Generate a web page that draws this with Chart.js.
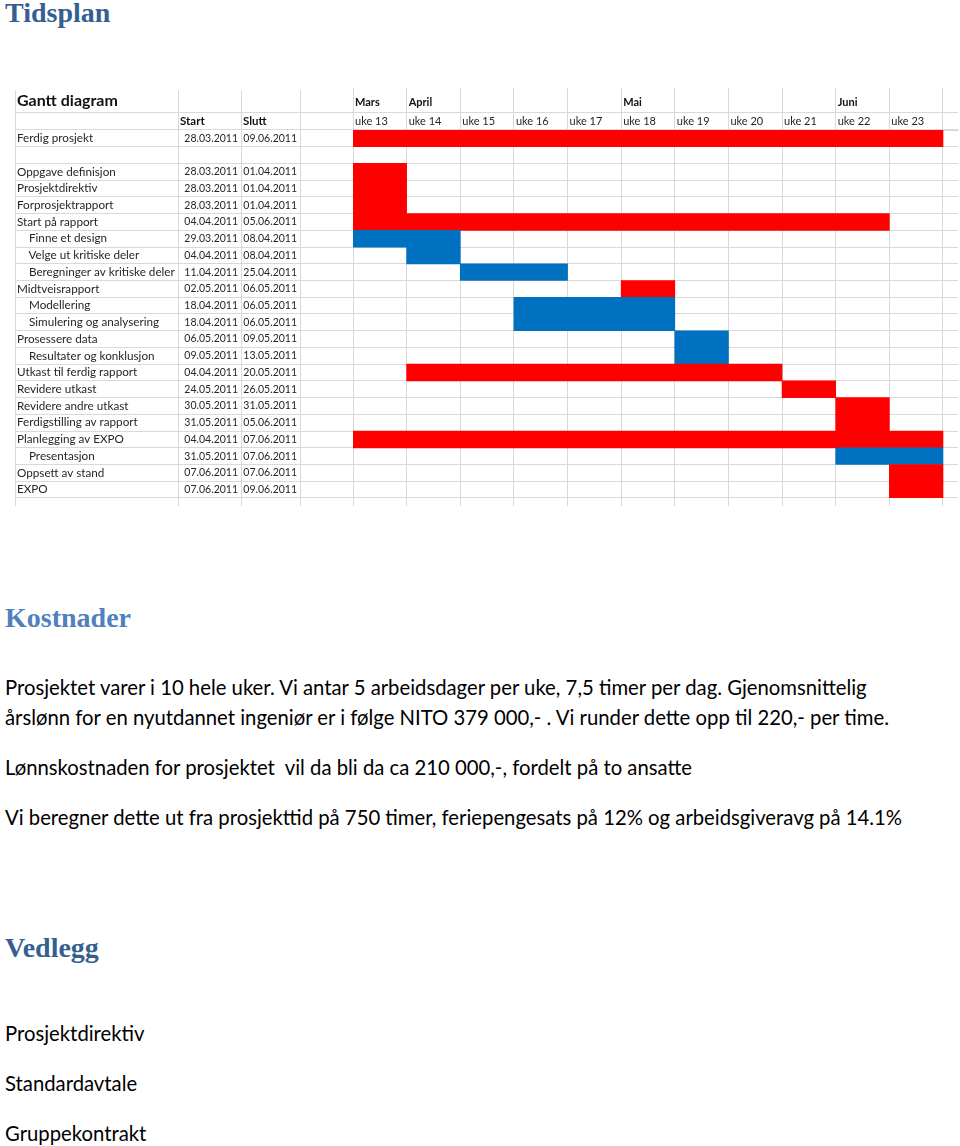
<!doctype html>
<html lang="no">
<head>
<meta charset="UTF-8">
<title>Tidsplan</title>
<script src="https://cdn.jsdelivr.net/npm/chart.js"></script>
<style>
  body { margin:0; width:960px; height:1146px; position:relative; background:#fff; font-family: Lato, sans-serif; color:#000; overflow:hidden; }
  .h { position:absolute; left:5px; margin:0; font-family:"Liberation Serif", serif; font-weight:bold; font-size:28px; line-height:30px; color:#365f91; }
  .t { position:absolute; left:5px; font-size:20.3px; line-height:30px; white-space:pre; }
  #gantt { position:absolute; left:0; top:88px; width:960px; height:420px; }
</style>
</head>
<body>

<h1 class="h" style="top:-2px">Tidsplan</h1>

<div id="gantt"><canvas id="ganttChart"></canvas></div>

<h2 class="h" style="top:603px;color:#4f81bd">Kostnader</h2>
<div class="t" style="top:672px">Prosjektet varer i 10 hele uker. Vi antar 5 arbeidsdager per uke, 7,5 timer per dag. Gjenomsnittelig</div>
<div class="t" style="top:702px">årslønn for en nyutdannet ingeniør er i følge NITO 379 000,- . Vi runder dette opp til 220,- per time.</div>
<div class="t" style="top:752px">Lønnskostnaden for prosjektet  vil da bli da ca 210 000,-, fordelt på to ansatte</div>
<div class="t" style="top:802px">Vi beregner dette ut fra prosjekttid på 750 timer, feriepengesats på 12% og arbeidsgiveravg på 14.1%</div>

<h2 class="h" style="top:933px">Vedlegg</h2>
<div class="t" style="top:1018px">Prosjektdirektiv</div>
<div class="t" style="top:1068px">Standardavtale</div>
<div class="t" style="top:1118px">Gruppekontrakt</div>

<script>
// rader i gantt-tabellen
const TASKS = ['Ferdig prosjekt', '', 'Oppgave definisjon', 'Prosjektdirektiv', 'Forprosjektrapport',
    'Start på rapport', 'Finne et design', 'Velge ut kritiske deler', 'Beregninger av kritiske deler',
    'Midtveisrapport', 'Modellering', 'Simulering og analysering', 'Prosessere data',
    'Resultater og konklusjon', 'Utkast til ferdig rapport', 'Revidere utkast', 'Revidere andre utkast',
    'Ferdigstilling av rapport', 'Planlegging av EXPO', 'Presentasjon', 'Oppsett av stand', 'EXPO'];
const INDENT = [0, 0, 0, 0, 0, 0, 1, 1, 1, 0, 1, 1, 0, 1, 0, 0, 0, 0, 0, 1, 0, 0];
const START_DATES = ['28.03.2011', '', '28.03.2011', '28.03.2011', '28.03.2011', '04.04.2011', '29.03.2011',
    '04.04.2011', '11.04.2011', '02.05.2011', '18.04.2011', '18.04.2011', '06.05.2011', '09.05.2011',
    '04.04.2011', '24.05.2011', '30.05.2011', '31.05.2011', '04.04.2011', '31.05.2011', '07.06.2011', '07.06.2011'];
const END_DATES = ['09.06.2011', '', '01.04.2011', '01.04.2011', '01.04.2011', '05.06.2011', '08.04.2011',
    '08.04.2011', '25.04.2011', '06.05.2011', '06.05.2011', '06.05.2011', '09.05.2011', '13.05.2011',
    '20.05.2011', '26.05.2011', '31.05.2011', '05.06.2011', '07.06.2011', '07.06.2011', '07.06.2011', '09.06.2011'];
// første og siste uke som er fylt ut
const FIRST_WEEK = [13, null, 13, 13, 13, 13, 13, 14, 15, 18, 16, 16, 19, 19, 14, 21, 22, 22, 13, 22, 23, 23];
const LAST_WEEK  = [23, null, 13, 13, 13, 22, 14, 14, 16, 18, 18, 18, 19, 19, 20, 21, 22, 22, 23, 23, 23, 23];
const KIND = ['red', '', 'red', 'red', 'red', 'red', 'blue', 'blue', 'blue', 'red', 'blue', 'blue', 'blue',
    'blue', 'red', 'red', 'red', 'red', 'red', 'blue', 'red', 'red'];
const WEEKS = [13, 14, 15, 16, 17, 18, 19, 20, 21, 22, 23];
const MONTHS = {13: 'Mars', 14: 'April', 18: 'Mai', 22: 'Juni'};

const COLORS = {red: '#ff0000', blue: '#0070c0'};
const GRID = '#d9d9d9';
const TEXT = '#262626';
const FONT = 'Lato, sans-serif';

// linjer og tekst for kolonnene til venstre (navn, start, slutt)
const tablePlugin = {
    id: 'table',
    beforeDatasetsDraw(chart) {
        const ctx = chart.ctx;
        const xs = chart.scales.x;
        const bottom = chart.chartArea.bottom + 8;
        ctx.save();
        ctx.strokeStyle = GRID;
        ctx.lineWidth = 1;
        ctx.beginPath();
        [15, 178, 241, 300].forEach(x => {
            ctx.moveTo(x + 0.5, 2);
            ctx.lineTo(x + 0.5, bottom);
        });
        ctx.moveTo(15, Math.round(xs.top) + 0.5);
        ctx.lineTo(chart.chartArea.right, Math.round(xs.top) + 0.5);
        ctx.stroke();
        ctx.restore();
    },
    afterDraw(chart) {
        const ctx = chart.ctx;
        const ys = chart.scales.y;
        const xs = chart.scales.x;
        const x2 = chart.scales.x2;
        ctx.save();
        ctx.fillStyle = '#111';
        ctx.textBaseline = 'middle';
        ctx.font = 'bold 16px ' + FONT;
        ctx.fillText('Gantt diagram', 17, (x2.top + x2.bottom) / 2 + 1);
        ctx.font = 'bold 11.5px ' + FONT;
        const hy = (xs.top + xs.bottom) / 2;
        ctx.fillText('Start', 180, hy);
        ctx.fillText('Slutt', 243, hy);
        ctx.fillStyle = TEXT;
        ctx.font = '10.5px ' + FONT;
        ctx.textAlign = 'right';
        TASKS.forEach((t, i) => {
            const y = ys.getPixelForValue(i);
            ctx.fillText(START_DATES[i], 238, y);
            ctx.fillText(END_DATES[i], 297, y);
        });
        ctx.restore();
    }
};

const weekTicks = s => { s.ticks = WEEKS.concat([24]).map(v => ({value: v})); };

new Chart(document.getElementById('ganttChart'), {
    type: 'bar',
    data: {
        labels: TASKS,
        datasets: [{
            label: 'Aktivitet',
            data: FIRST_WEEK.map((f, i) => f === null ? null : [f, LAST_WEEK[i] + 1]),
            backgroundColor: KIND.map(k => COLORS[k] || 'transparent'),
            borderWidth: 0,
            barPercentage: 1,
            categoryPercentage: 1
        }]
    },
    options: {
        indexAxis: 'y',
        responsive: true,
        maintainAspectRatio: false,
        animation: false,
        layout: {padding: {left: 17, right: 2, top: 0, bottom: 1.5}},
        plugins: {legend: {display: false}, tooltip: {enabled: false}},
        scales: {
            x: {
                type: 'linear',
                position: 'top',
                weight: 0,
                min: 13,
                max: 24.28,
                afterBuildTicks: weekTicks,
                afterFit: s => { s.height = 18; },
                grid: {color: GRID, tickLength: 18},
                border: {color: GRID},
                ticks: {
                    align: 'start',
                    labelOffset: 2,
                    padding: -16,
                    autoSkip: false,
                    maxRotation: 0,
                    color: TEXT,
                    font: {family: FONT, size: 11},
                    callback: v => WEEKS.includes(v) ? 'uke ' + v : ''
                }
            },
            x2: {
                type: 'linear',
                position: 'top',
                weight: 1,
                min: 13,
                max: 24.28,
                afterBuildTicks: weekTicks,
                afterFit: s => { s.height = 24; },
                grid: {color: GRID, tickLength: 24, drawOnChartArea: false},
                border: {display: false},
                ticks: {
                    align: 'start',
                    labelOffset: 2,
                    padding: -21.5,
                    autoSkip: false,
                    maxRotation: 0,
                    color: '#111',
                    font: {family: FONT, size: 11, weight: 'bold'},
                    callback: v => MONTHS[v] || ''
                }
            },
            xb: {
                type: 'linear',
                position: 'bottom',
                min: 13,
                max: 24.28,
                afterBuildTicks: weekTicks,
                grid: {color: GRID, tickLength: 8, drawOnChartArea: false},
                border: {display: false},
                ticks: {display: false}
            },
            y: {
                type: 'category',
                position: 'left',
                afterFit: s => { s.width = 336; },
                grid: {color: GRID, tickLength: 338},
                border: {color: GRID},
                ticks: {
                    crossAlign: 'far',
                    autoSkip: false,
                    color: TEXT,
                    font: {family: FONT, size: 11.7},
                    callback: (v, i) => '\u00a0'.repeat(INDENT[i] * 4) + TASKS[i]
                }
            }
        }
    },
    plugins: [tablePlugin]
});
</script>
</body>
</html>
